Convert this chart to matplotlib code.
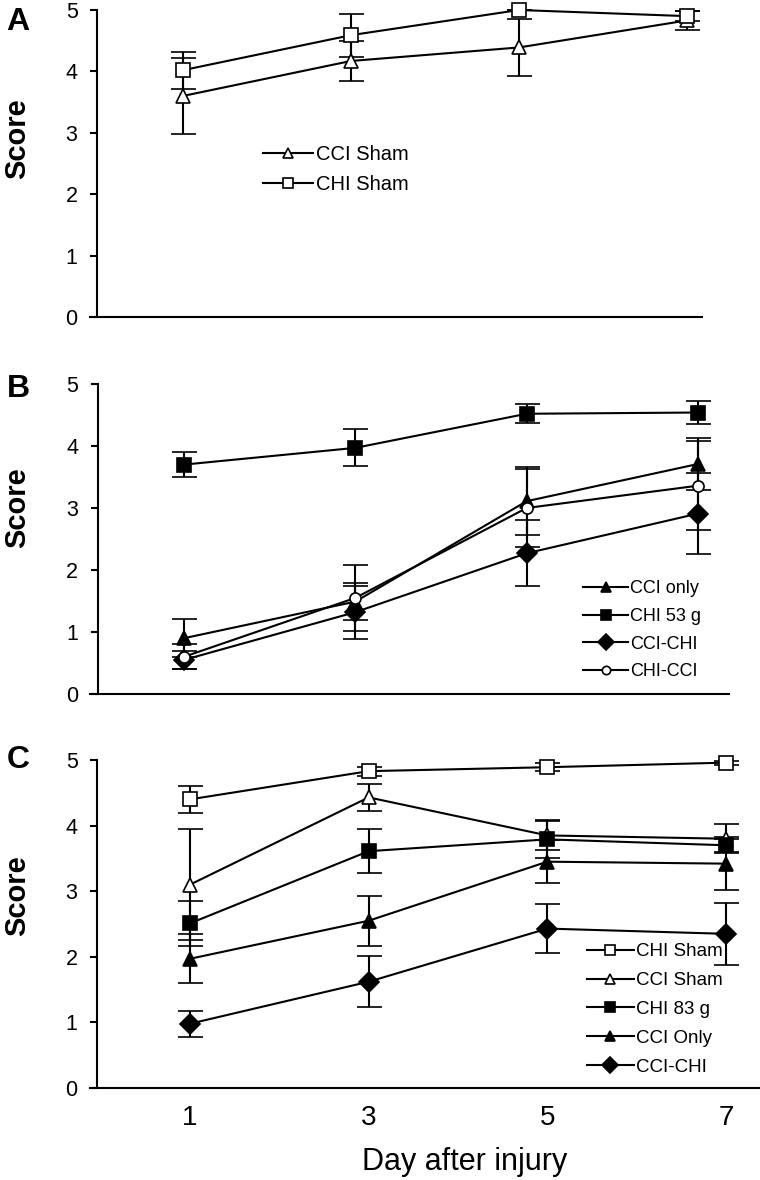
import matplotlib
matplotlib.use("Agg")
import matplotlib.pyplot as plt

plt.rcParams['font.family'] = ['Liberation Sans', 'DejaVu Sans']

# ---------------- data ----------------
days = [1, 3, 5, 7]
y_ticks = [0, 1, 2, 3, 4, 5]

# Panel A
a_cci_sham = [3.60, 4.17, 4.39, 4.83]
a_cci_sham_err = [0.62, 0.33, 0.46, 0.15]
a_chi_sham = [4.02, 4.59, 5.00, 4.90]
a_chi_sham_err = [0.30, 0.35, 0.00, 0.08]

# Panel B
b_cci_only = [0.90, 1.49, 3.11, 3.71]
b_cci_only_err = [0.31, 0.30, 0.55, 0.42]
b_chi53 = [3.70, 3.97, 4.52, 4.54]
b_chi53_err = [0.20, 0.30, 0.15, 0.18]
b_cci_chi = [0.55, 1.32, 2.27, 2.91]
b_cci_chi_err = [0.15, 0.43, 0.53, 0.65]
b_chi_cci = [0.60, 1.55, 3.00, 3.36]
b_chi_cci_err = [0.20, 0.53, 0.63, 0.72]

# Panel C
c_chi_sham = [4.40, 4.83, 4.89, 4.96]
c_chi_sham_err = [0.21, 0.07, 0.06, 0.03]
c_cci_sham = [3.10, 4.43, 3.85, 3.80]
c_cci_sham_err = [0.85, 0.20, 0.22, 0.22]
c_chi83 = [2.51, 3.61, 3.79, 3.70]
c_chi83_err = [0.34, 0.34, 0.29, 0.10]
c_cci_only = [1.97, 2.55, 3.45, 3.42]
c_cci_only_err = [0.37, 0.38, 0.33, 0.40]
c_cci_chi = [0.98, 1.62, 2.43, 2.35]
c_cci_chi_err = [0.20, 0.39, 0.37, 0.47]

# ---------------- layout ----------------
W, H = 760, 1180
fig = plt.figure(figsize=(W / 100, H / 100), dpi=100)

def make_axes(p1, p7, spine, left, right, y5, y0):
    ax = fig.add_axes([left / W, 1 - y0 / H, (right - left) / W, (y0 - y5) / H])
    k = (p7 - p1) / 6.0
    ax.set_xlim(1 + (left - p1) / k, 1 + (right - p1) / k)
    ax.set_ylim(0, 5)
    ax.spines['top'].set_visible(False)
    ax.spines['right'].set_visible(False)
    ax.spines['left'].set_position(('data', 1 + (spine - p1) / k))
    for s in ('left', 'bottom'):
        ax.spines[s].set_linewidth(1.5)
    ax.set_yticks(y_ticks)
    ax.tick_params(axis='y', direction='out', length=5, width=1.5, pad=9,
                   labelsize=15.5)
    ax.tick_params(axis='x', length=0)
    ax.set_xticks(days)
    ax.patch.set_alpha(0)
    return ax

def series(ax, y, err, marker, ms, filled, label):
    ax.errorbar(days, y, yerr=err, color='black', lw=1.5, elinewidth=1.5,
                capsize=9, capthick=1.5, marker=marker, ms=ms,
                mfc='black' if filled else 'white', mec='black', mew=1.2,
                label=label, clip_on=False, zorder=3)

def legend(ax, x, y, fs, spacing, ms_scale=0.75):
    handles, labels = ax.get_legend_handles_labels()
    handles = [h[0] for h in handles]
    ax.legend(handles, labels, loc='upper left',
              bbox_to_anchor=(x / W, 1 - y / H), bbox_transform=fig.transFigure,
              frameon=False, fontsize=fs, handlelength=2.5, handletextpad=0.12,
              borderpad=0, borderaxespad=0, labelspacing=spacing,
              markerscale=ms_scale)

# Panel A
axA = make_axes(183, 687, 97, 90, 702, 10, 317)
series(axA, a_cci_sham, a_cci_sham_err, '^', 10, False, 'CCI Sham')
series(axA, a_chi_sham, a_chi_sham_err, 's', 9.5, False, 'CHI Sham')
axA.set_xticklabels([])
legend(axA, 263, 145, 14.5, 0.57)

# Panel B
axB = make_axes(184, 698, 97.5, 90, 729, 384, 694)
series(axB, b_cci_only, b_cci_only_err, '^', 10.5, True, 'CCI only')
series(axB, b_chi53, b_chi53_err, 's', 10.5, True, 'CHI 53 g')
series(axB, b_cci_chi, b_cci_chi_err, 'D', 10.5, True, 'CCI-CHI')
series(axB, b_chi_cci, b_chi_cci_err, 'o', 8, False, 'CHI-CCI')
axB.set_xticklabels([])
legend(axB, 583, 580, 13, 0.6)

# Panel C
axC = make_axes(190, 726, 97, 90, 760, 760, 1088)
series(axC, c_chi_sham, c_chi_sham_err, 's', 9.5, False, 'CHI Sham')
series(axC, c_cci_sham, c_cci_sham_err, '^', 10, False, 'CCI Sham')
series(axC, c_chi83, c_chi83_err, 's', 10.5, True, 'CHI 83 g')
series(axC, c_cci_only, c_cci_only_err, '^', 10.5, True, 'CCI Only')
series(axC, c_cci_chi, c_cci_chi_err, 'D', 10.5, True, 'CCI-CHI')
axC.set_xticklabels([str(d) for d in days])
axC.tick_params(axis='x', labelsize=20, pad=12)
legend(axC, 587, 943, 13.5, 0.63)

# Labels
for yc in (139, 508, 896):
    fig.text(17 / W, 1 - yc / H, 'Score', rotation=90, ha='center', va='center',
             fontsize=21, fontweight='bold')
for letter, yc in (('A', 22), ('B', 389), ('C', 760)):
    fig.text(18 / W, 1 - yc / H, letter, ha='center', va='center',
             fontsize=23, fontweight='bold')
fig.text(465 / W, 1 - 1162 / H, 'Day after injury', ha='center', va='center',
         fontsize=22)

fig.savefig('out.png', dpi=100, facecolor='white')
